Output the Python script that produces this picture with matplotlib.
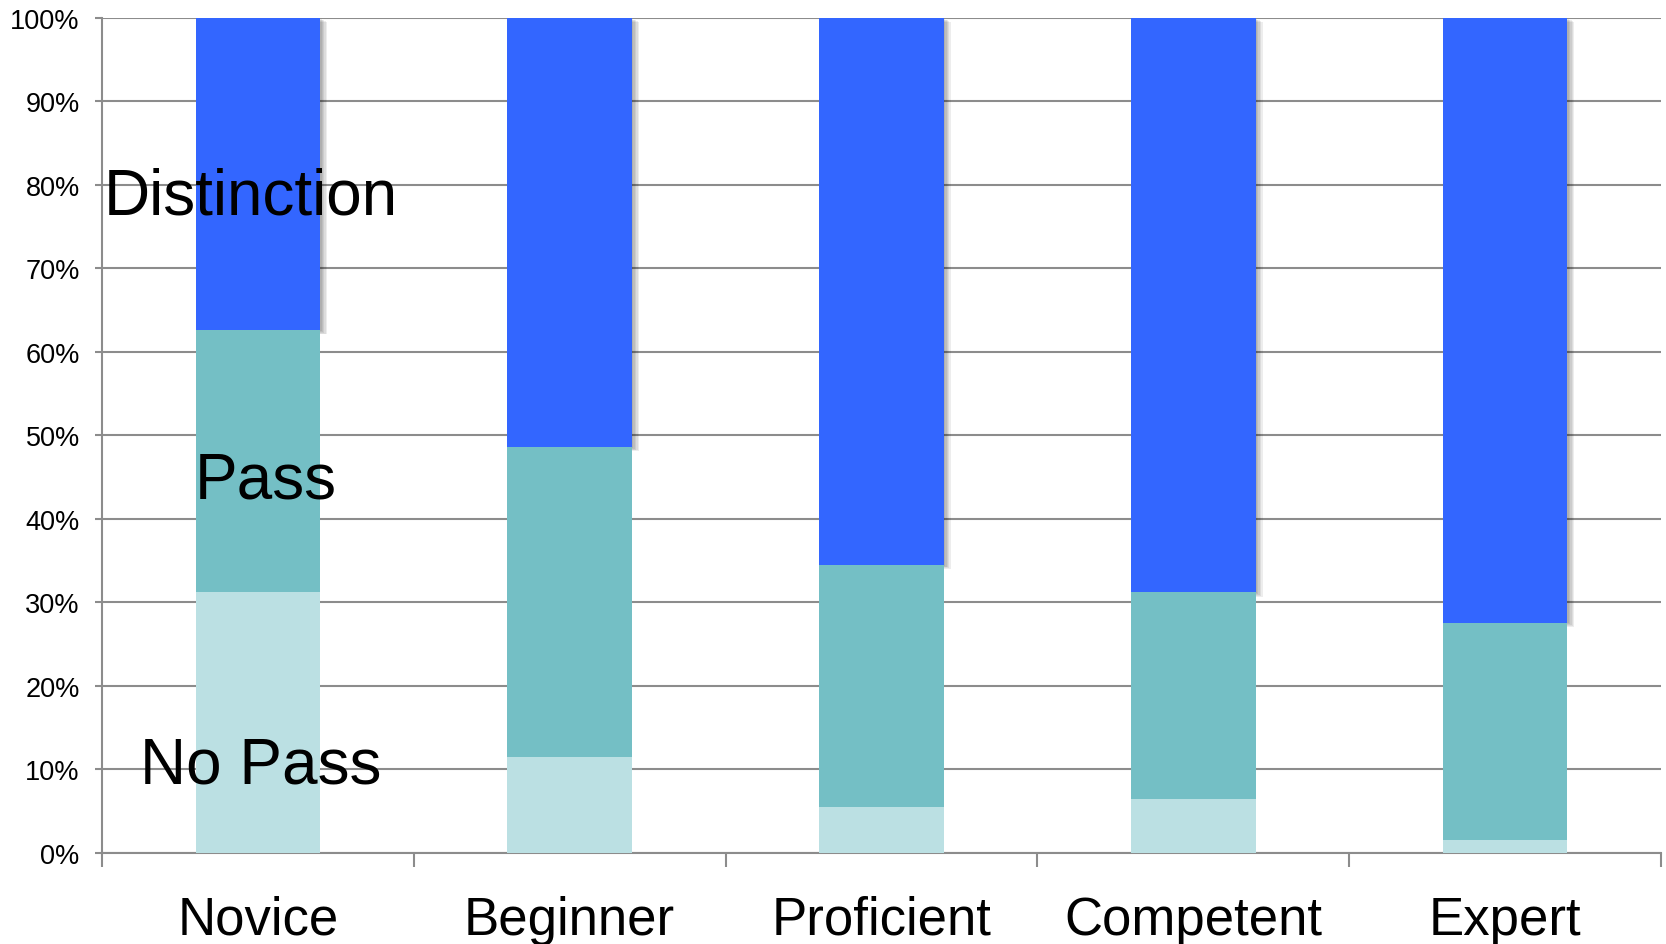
import numpy as np
import matplotlib
matplotlib.use('Agg')
from matplotlib import pyplot as plt
from matplotlib import patheffects as pe
from matplotlib.ticker import FixedLocator, PercentFormatter

plt.rcParams.update({'font.family': ['Liberation Sans', 'DejaVu Sans']})

# data (percent of students per level)
levels = ['Novice', 'Beginner', 'Proficient', 'Competent', 'Expert']
no_pass = [31.3, 11.5, 5.5, 6.5, 1.6]
passed = [31.3, 37.1, 29.0, 24.7, 26.0]
distinction = [100 - a - b for a, b in zip(no_pass, passed)]

c_dist = '#3366FF'
c_pass = '#74BFC5'
c_nopass = '#BBE0E3'
grid_col = '#8C8C8C'

fig = plt.figure(figsize=(16.66, 9.45), dpi=100)
ax = fig.add_axes([0.0612, 0.0963, 0.9358, 0.8837])

x = np.arange(len(levels))
width = 0.4

np_arr = np.array(no_pass)
pa_arr = np.array(passed)

# soft drop shadow, built from a few faint offset copies
shadow = [pe.SimplePatchShadow(offset=(d, -d * 0.6), shadow_rgbFace='k',
                               alpha=0.07) for d in (1, 2, 3, 4, 5)]
ax.bar(x, distinction, width, bottom=np_arr + pa_arr, color=c_dist,
       zorder=2, path_effects=shadow + [pe.Normal()])
ax.bar(x, passed, width, bottom=np_arr, color=c_pass, zorder=3)
ax.bar(x, no_pass, width, color=c_nopass, zorder=3)

# series labels drawn over the first bar
ax.text(-0.493, 78.6, 'Distinction', fontsize=46, va='center', ha='left',
        zorder=5)
ax.text(-0.203, 44.6, 'Pass', fontsize=46, va='center', ha='left', zorder=5)
ax.text(-0.377, 10.5, 'No Pass', fontsize=46, va='center', ha='left',
        zorder=5)

ax.set_xlim(-0.5, len(levels) - 0.5)
ax.set_ylim(0, 100)

ax.set_yticks(np.arange(0, 101, 10))
ax.yaxis.set_major_formatter(PercentFormatter(decimals=0))
ax.yaxis.grid(True, color=grid_col, linewidth=1.5, zorder=0)
ax.set_axisbelow(True)

ax.set_xticks(x)
ax.set_xticklabels(levels, fontsize=38)
ax.xaxis.set_minor_locator(FixedLocator(np.arange(-0.5, len(levels), 1.0)))
ax.tick_params(axis='x', which='major', length=0, pad=30)
ax.tick_params(axis='x', which='minor', length=10, width=1.5,
               color=grid_col, direction='out')
ax.tick_params(axis='y', length=5, width=1.5, color=grid_col, pad=11,
               labelsize=19.5)

for side in ['top', 'right']:
    ax.spines[side].set_visible(False)
for side in ['left', 'bottom']:
    ax.spines[side].set_color(grid_col)
    ax.spines[side].set_linewidth(1.5)

fig.savefig('out.png', dpi=100)
